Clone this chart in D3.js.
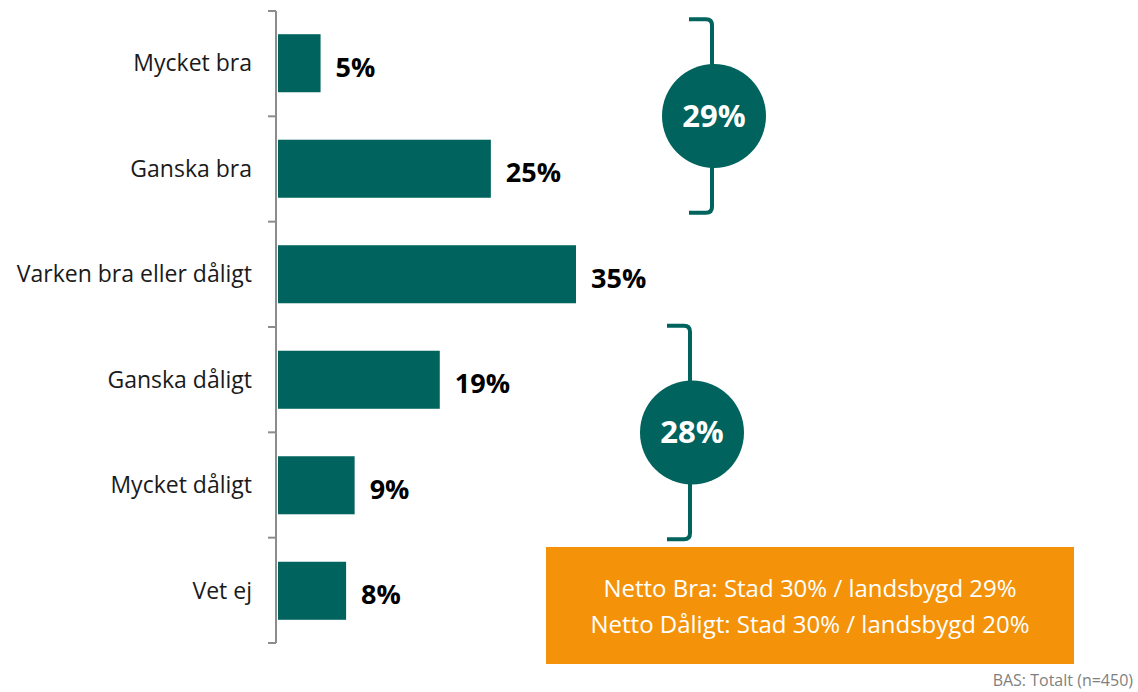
<!DOCTYPE html>
<html>
<head>
<meta charset="utf-8">
<script src="https://cdn.jsdelivr.net/npm/d3@7"></script>
<style>
  body { margin: 0; background: #fff; }
  text { font-family: "Open Sans", "Noto Sans", sans-serif; }
</style>
</head>
<body>
<div id="chart"></div>
<script>
const width = 1138;
const height = 692;

const categories = ["Mycket bra", "Ganska bra", "Varken bra eller dåligt", "Ganska dåligt", "Mycket dåligt", "Vet ej"];
const values = [5, 25, 35, 19, 9, 8];

// netto groups: which categories they span, and the total
const groups = [
  { from: "Mycket bra", to: "Ganska bra", total: 29, x: 712, pad: 15 },
  { from: "Ganska dåligt", to: "Mycket dåligt", total: 28, x: 690, pad: 25 }
];
const notes = ["Netto Bra: Stad 30% / landsbygd 29%", "Netto Dåligt: Stad 30% / landsbygd 20%"];
const base = "BAS: Totalt (n=450)";

const teal = "#00635d";
const orange = "#f4930a";

const svg = d3.select("#chart").append("svg")
  .attr("width", width)
  .attr("height", height);

const axisX = 276;

//y axis, categories
const y = d3.scaleBand()
  .domain(categories)
  .range([11, 643])
  .paddingInner(0.45)
  .paddingOuter(0.22);

//x axis, percent
const x = d3.scaleLinear()
  .domain([0, 35])
  .range([axisX + 2, 576]);

// axis line + ticks between categories
const tickYs = d3.range(categories.length + 1).map(i => 11 + i * (632 / categories.length));

svg.append("line")
  .attr("x1", axisX).attr("x2", axisX)
  .attr("y1", 11).attr("y2", 643)
  .attr("stroke", "#8c8c8c").attr("stroke-width", 2);

svg.selectAll(".tick")
  .data(tickYs)
  .join("line")
  .attr("x1", axisX - 8).attr("x2", axisX)
  .attr("y1", d => d).attr("y2", d => d)
  .attr("stroke", "#8c8c8c").attr("stroke-width", 2);

// bars
svg.selectAll(".bar")
  .data(values)
  .join("rect")
  .attr("x", x(0))
  .attr("y", (d, i) => y(categories[i]))
  .attr("width", d => x(d) - x(0))
  .attr("height", y.bandwidth())
  .attr("fill", teal);

// category labels
svg.selectAll(".cat")
  .data(categories)
  .join("text")
  .attr("x", 252)
  .attr("y", d => y(d) + y.bandwidth() / 2)
  .attr("dy", "0.35em")
  .attr("text-anchor", "end")
  .attr("font-size", 23)
  .attr("fill", "#1a1a1a")
  .text(d => d);

// value labels
svg.selectAll(".val")
  .data(values)
  .join("text")
  .attr("x", d => x(d) + 15)
  .attr("y", (d, i) => y(categories[i]) + y.bandwidth() / 2 + 4)
  .attr("dy", "0.35em")
  .attr("text-anchor", "start")
  .attr("font-size", 27)
  .attr("font-weight", "bold")
  .attr("fill", "#000")
  .text(d => d + "%");

// brackets with circles
groups.forEach(g => {
  const top = y(g.from) - g.pad;
  const bottom = y(g.to) + y.bandwidth() + g.pad;
  const mid = (top + bottom) / 2;
  const arm = 23, r = 6;
  const p = d3.path();
  p.moveTo(g.x - arm, top);
  p.lineTo(g.x - r, top);
  p.quadraticCurveTo(g.x, top, g.x, top + r);
  p.lineTo(g.x, bottom - r);
  p.quadraticCurveTo(g.x, bottom, g.x - r, bottom);
  p.lineTo(g.x - arm, bottom);
  svg.append("path")
    .attr("d", p.toString())
    .attr("fill", "none")
    .attr("stroke", teal)
    .attr("stroke-width", 4);

  svg.append("circle")
    .attr("cx", g.x + 2)
    .attr("cy", mid)
    .attr("r", 52)
    .attr("fill", teal);

  svg.append("text")
    .attr("x", g.x + 2)
    .attr("y", mid)
    .attr("dy", "0.35em")
    .attr("text-anchor", "middle")
    .attr("font-size", 31)
    .attr("font-weight", "bold")
    .attr("fill", "#fff")
    .text(g.total + "%");
});

// orange note box
svg.append("rect")
  .attr("x", 546).attr("y", 547)
  .attr("width", 528).attr("height", 117)
  .attr("fill", orange);

svg.selectAll(".note")
  .data(notes)
  .join("text")
  .attr("x", 810)
  .attr("y", (d, i) => 589 + i * 36)
  .attr("dy", "0.35em")
  .attr("text-anchor", "middle")
  .attr("font-size", 24)
  .attr("fill", "#fff")
  .text(d => d);

svg.append("text")
  .attr("x", 1133)
  .attr("y", 680)
  .attr("dy", "0.35em")
  .attr("text-anchor", "end")
  .attr("font-size", 16)
  .attr("fill", "#7f7f7f")
  .text(base);
</script>
</body>
</html>
